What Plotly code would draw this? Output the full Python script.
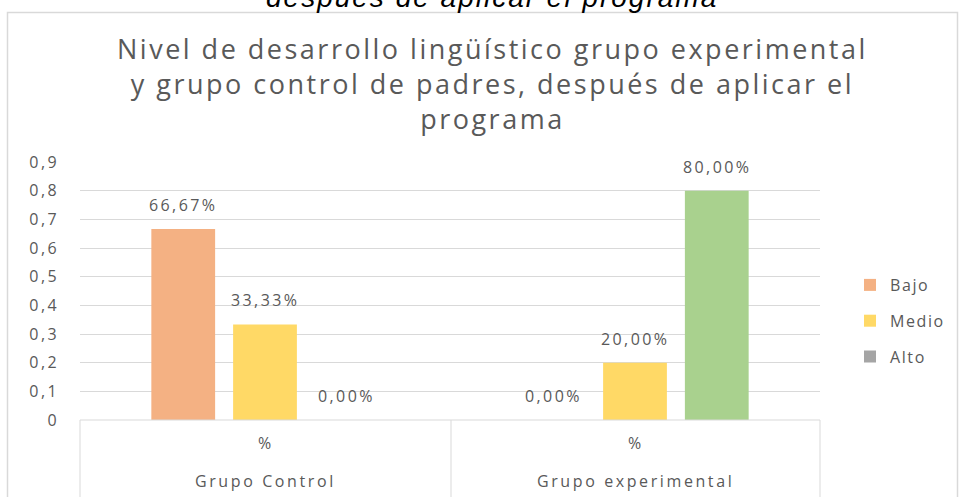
import plotly.graph_objects as go

categories = ["Grupo Control", "Grupo experimental"]
sub_label = "%"
series_names = ["Bajo", "Medio", "Alto"]
bajo = [0.6667, 0.0]
medio = [0.3333, 0.2]
alto = [0.0, 0.8]
series_values = [bajo, medio, alto]
series_colors = [
    ["#F4B183", "#F4B183"],
    ["#FFD966", "#FFD966"],
    ["#A5A5A5", "#A9D18E"],
]
y_ticks = [0, 0.1, 0.2, 0.3, 0.4, 0.5, 0.6, 0.7, 0.8, 0.9]
y_ticktext = ["0", "0,1", "0,2", "0,3", "0,4", "0,5", "0,6", "0,7", "0,8", "0,9"]
title_lines = ["Nivel de desarrollo lingüístico grupo experimental",
               "y grupo control de padres, después de aplicar el",
               "programa"]
top_caption = "después de aplicar el programa"

W, H = 959, 497
ML, MR, MT, MB = 80, 139, 162, 77
PW, PH = W - ML - MR, H - MT - MB
GREY = "#595959"
LINE = "#D9D9D9"
FONT = "Open Sans"
BARGAP = 0.337
GROUPGAP = 0.22


def sp(text, ls):
    return f'<span style="letter-spacing:{ls}px">{text}</span>'


fig = go.Figure()
for name, vals, cols in zip(series_names, series_values, series_colors):
    fig.add_trace(go.Bar(
        x=categories, y=vals, name=sp(name, 1.6),
        marker=dict(color=cols, line=dict(width=0)),
        legendgroup=name,
    ))

# data labels
n = len(series_names)
slot = (1 - BARGAP) / n
for i, vals in enumerate(series_values):
    for j, v in enumerate(vals):
        fig.add_annotation(
            x=j + (i - (n - 1) / 2) * slot, y=v, xref="x", yref="y",
            text=sp(f"{v*100:.2f}%".replace(".", ","), 2.4),
            showarrow=False, xanchor="center", yanchor="bottom", yshift=11,
            font=dict(family=FONT, size=16, color=GREY),
        )


def px_x(px):
    return (px - ML) / PW


def px_y(py):
    return (H - MB - py) / PH


# category axis box
shapes = []
for xp in [80, 451, 820]:
    shapes.append(dict(type="line", xref="paper", yref="paper",
                       x0=px_x(xp), x1=px_x(xp), y0=0, y1=px_y(505),
                       line=dict(color=LINE, width=1)))
shapes.append(dict(type="line", xref="paper", yref="paper",
                   x0=0, x1=1, y0=0, y1=0, line=dict(color=LINE, width=1)))
# chart border
shapes.append(dict(type="rect", xref="paper", yref="paper",
                   x0=px_x(7.5), x1=px_x(957.5), y0=px_y(505), y1=px_y(12.5),
                   line=dict(color=LINE, width=1.5), fillcolor="rgba(0,0,0,0)"))

for j, cat in enumerate(categories):
    fig.add_annotation(x=j, y=px_y(443), xref="x", yref="paper", text=sp(sub_label, 2),
                       showarrow=False, xanchor="center", yanchor="middle",
                       font=dict(family=FONT, size=16, color=GREY))
    fig.add_annotation(x=j, y=px_y(481), xref="x", yref="paper", text=sp(cat, 2.6),
                       showarrow=False, xanchor="center", yanchor="middle",
                       font=dict(family=FONT, size=16, color=GREY))

fig.add_annotation(x=px_x(492), y=px_y(84), xref="paper", yref="paper",
                   text="<br>".join(sp(t, 2.5) for t in title_lines),
                   showarrow=False, align="center", xanchor="center", yanchor="middle",
                   font=dict(family=FONT, size=27, color=GREY))
fig.add_annotation(x=px_x(492), y=px_y(-3), xref="paper", yref="paper",
                   text=f"<i>{sp(top_caption, 2)}</i>", showarrow=False,
                   xanchor="center", yanchor="middle",
                   font=dict(family="Liberation Sans", size=28, color="#000000"))

fig.update_layout(
    width=W, height=H,
    margin=dict(l=ML, r=MR, t=MT, b=MB, pad=0, autoexpand=False),
    paper_bgcolor="white", plot_bgcolor="white",
    barmode="group", bargap=BARGAP, bargroupgap=GROUPGAP,
    separators=",.",
    shapes=shapes,
    showlegend=True,
    legend=dict(x=px_x(850), y=px_y(321), xanchor="left", yanchor="middle",
                font=dict(family=FONT, size=16, color=GREY),
                tracegroupgap=12, itemwidth=30, bgcolor="rgba(0,0,0,0)"),
    xaxis=dict(showticklabels=False, showgrid=False, showline=False,
               zeroline=False, ticks=""),
    yaxis=dict(range=[0, 0.9], tickvals=y_ticks,
               ticktext=[sp(t, 2.4) for t in y_ticktext],
               showgrid=True, gridcolor=LINE, gridwidth=1, zeroline=False,
               showline=False, ticks="", ticklabelstandoff=20,
               tickfont=dict(family=FONT, size=16, color=GREY)),
)

fig.write_html("out.html", config={"displayModeBar": False},
               post_script="document.body.style.margin='0';document.body.style.overflow='hidden';")
